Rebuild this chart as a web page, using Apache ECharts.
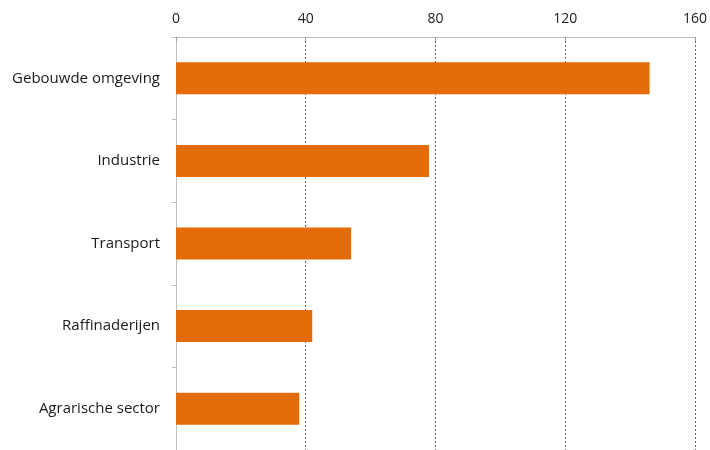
<!DOCTYPE html>
<html>
<head>
<meta charset="utf-8">
<script src="https://cdn.jsdelivr.net/npm/echarts@6/dist/echarts.min.js"></script>
<style>
  html, body { margin: 0; padding: 0; background: #fff; }
  #chart { width: 710px; height: 450px; }
</style>
</head>
<body>
<div id="chart"></div>
<script>
const sectors = ['Gebouwde omgeving', 'Industrie', 'Transport', 'Raffinaderijen', 'Agrarische sector'];
const values = [146, 78, 54, 42, 38];
const axisMin = 0;
const axisMax = 160;
const axisStep = 40;

const chart = echarts.init(document.getElementById('chart'));

const option = {
  backgroundColor: '#fff',
  animation: false,
  grid: {
    left: 176,
    right: 15,
    top: 37,
    bottom: 0
  },
  xAxis: {
    type: 'value',
    position: 'top',
    min: axisMin,
    max: axisMax,
    interval: axisStep,
    axisLine: { show: true, lineStyle: { color: '#bfbfbf', width: 1 } },
    axisTick: { show: true, length: 4, inside: true, lineStyle: { color: '#999' } },
    axisLabel: {
      color: '#222',
      fontFamily: 'Open Sans',
      fontSize: 14,
      margin: 11
    },
    splitLine: {
      show: true,
      lineStyle: { color: '#666', type: [2, 2], width: 1 }
    }
  },
  yAxis: {
    type: 'category',
    inverse: true,
    data: sectors,
    axisLine: { show: true, lineStyle: { color: '#bfbfbf', width: 1 } },
    axisTick: { show: true, length: 4, lineStyle: { color: '#bfbfbf' } },
    axisLabel: {
      color: '#1a1a1a',
      fontFamily: 'Open Sans',
      fontSize: 15,
      margin: 16
    }
  },
  series: [
    {
      type: 'bar',
      data: values,
      barWidth: 32,
      itemStyle: { color: '#E36C09' }
    }
  ]
};

chart.setOption(option);
</script>
</body>
</html>
